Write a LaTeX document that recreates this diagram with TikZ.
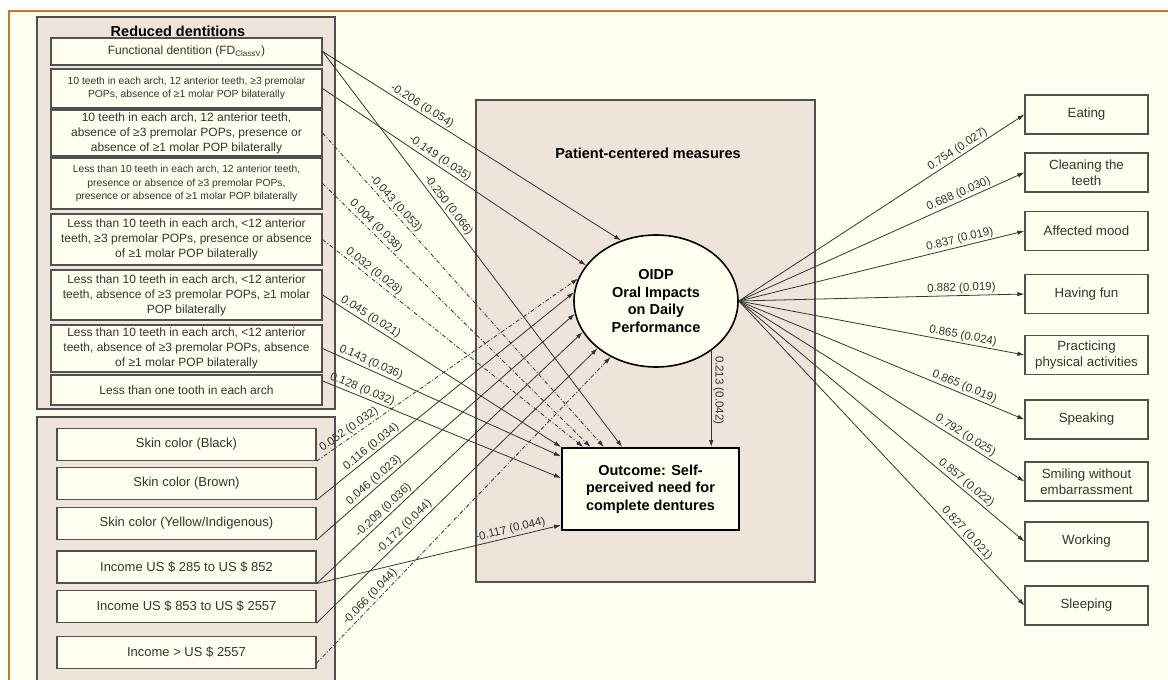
\documentclass[tikz,border=0pt]{standalone}
\usepackage{fontspec}
\setmainfont{Liberation Sans}
\usepackage{xcolor}
\usepackage{tikz}
\usetikzlibrary{shapes.geometric, arrows.meta}
\definecolor{cream}{HTML}{FFFFF0}
\definecolor{panel}{HTML}{EFE4DA}
\definecolor{framecol}{HTML}{C8781E}
\definecolor{boxline}{HTML}{505050}
\definecolor{lineclr}{HTML}{333333}

\begin{document}
\begin{tikzpicture}[x=1pt, y=-1pt, >={Latex[length=7pt,width=4.5pt]},
    rbox/.style={draw=boxline, line width=1.2pt, fill=cream, text=lineclr, align=center,
        inner sep=1pt, minimum width=271pt, font=\fontsize{12}{15}\selectfont},
    sbox/.style={rbox, minimum width=259pt, minimum height=32pt, font=\fontsize{13}{15}\selectfont},
    obox/.style={rbox, minimum width=123pt, minimum height=39pt, font=\fontsize{13.3}{16}\selectfont},
    conn/.style={->, draw=lineclr, line width=0.8pt},
    dd/.style={conn, dash pattern=on 4pt off 2pt on 1pt off 2pt},
    lbl/.style={sloped, above, inner sep=1.5pt, text=lineclr, font=\fontsize{11.5}{13}\selectfont}]
    % 1. Nền và khung
    \useasboundingbox (0,0) rectangle (1168,680);
    \fill[white] (0,0) rectangle (1168,680);
    \fill[cream] (9,11) rectangle (1168,680);
    \draw[framecol, line width=2pt] (9,685) -- (9,11) -- (1175,11);
    \draw[boxline, fill=panel, line width=1.2pt] (37,17) rectangle (335,409);
    \draw[boxline, fill=panel, line width=1.2pt] (37,417) rectangle (335,690);
    \draw[boxline, fill=panel, line width=1.2pt] (476,100) rectangle (815,582);
    \node[font=\bfseries\fontsize{14.5}{17}\selectfont] (rdt) at (178,31) {Reduced dentitions};
    \node[font=\bfseries\fontsize{14.5}{17}\selectfont] (pcm) at (648,153) {Patient-centered measures};

    % 2. Reduced dentitions
    \node[rbox, minimum height=27pt] (rd1) at (186.5,51.5) {Functional dentition (FD\textsubscript{ClassV})};
    \node[rbox, minimum height=39pt, font=\fontsize{10.3}{13.5}\selectfont] (rd2) at (186.5,88.5)
        {10 teeth in each arch, 12 anterior teeth, ≥3 premolar\\POPs, absence of ≥1 molar POP bilaterally};
    \node[rbox, minimum height=46pt] (rd3) at (186.5,133)
        {10 teeth in each arch, 12 anterior teeth,\\absence of ≥3 premolar POPs, presence or\\absence of ≥1 molar POP bilaterally};
    \node[rbox, minimum height=51pt, font=\fontsize{10.3}{13.3}\selectfont] (rd4) at (186.5,183.5)
        {Less than 10 teeth in each arch, 12 anterior teeth,\\presence or absence of ≥3 premolar POPs,\\presence or absence of ≥1 molar POP bilaterally};
    \node[rbox, minimum height=51pt] (rd5) at (186.5,239.5)
        {Less than 10 teeth in each arch, <12 anterior\\teeth, ≥3 premolar POPs, presence or absence\\of ≥1 molar POP bilaterally};
    \node[rbox, minimum height=50pt] (rd6) at (186.5,295)
        {Less than 10 teeth in each arch, <12 anterior\\teeth, absence of ≥3 premolar POPs, ≥1 molar\\POP bilaterally};
    \node[rbox, minimum height=47pt] (rd7) at (186.5,348.5)
        {Less than 10 teeth in each arch, <12 anterior\\teeth, absence of ≥3 premolar POPs, absence\\of ≥1 molar POP bilaterally};
    \node[rbox, minimum height=30pt] (rd8) at (186.5,390) {Less than one tooth in each arch};

    % 3. Skin color, income
    \node[sbox] (skin1) at (186.5,444.5) {Skin color (Black)};
    \node[sbox] (skin2) at (186.5,483.5) {Skin color (Brown)};
    \node[sbox] (skin3) at (186.5,523.5) {Skin color (Yellow/Indigenous)};
    \node[sbox] (inc1) at (186.5,567) {Income US \$ 285 to US \$ 852};
    \node[sbox] (inc2) at (186.5,606.5) {Income US \$ 853 to US \$ 2557};
    \node[sbox] (inc3) at (186.5,652.5) {Income > US \$ 2557};

    % 4. OIDP, outcome
    \node[ellipse, draw=black, line width=1.6pt, fill=cream, minimum width=164pt, minimum height=132pt,
        align=center, font=\bfseries\fontsize{14.5}{17.7}\selectfont] (oidp) at (656,301)
        {OIDP\\Oral Impacts\\on Daily\\Performance};
    \node[draw=black, line width=2pt, fill=cream, minimum width=177pt, minimum height=82pt,
        align=center, font=\bfseries\fontsize{14.5}{17.5}\selectfont] (outcome) at (650.5,489)
        {Outcome: Self-\\perceived need for\\complete dentures};

    % 5. OIDP domains
    \node[obox] (eat) at (1086.5,114.5) {Eating};
    \node[obox] (clean) at (1086.5,172.5) {Cleaning the\\teeth};
    \node[obox] (mood) at (1086.5,231) {Affected mood};
    \node[obox] (fun) at (1086.5,294) {Having fun};
    \node[obox] (phys) at (1086.5,355) {Practicing\\physical activities};
    \node[obox] (speak) at (1086.5,419.5) {Speaking};
    \node[obox] (smile) at (1086.5,481.5) {Smiling without\\embarrassment};
    \node[obox] (work) at (1086.5,541.5) {Working};
    \node[obox] (sleep) at (1086.5,605.5) {Sleeping};

    % 6. Paths from reduced dentitions
    \draw[conn] (rd1.east) -- node[lbl, pos=0.32] {-0.206 (0.054)} (oidp.120);
    \draw[conn] (rd1.east) -- node[lbl, pos=0.40] {-0.250 (0.066)} (outcome.124.8);
    \draw[conn] (rd2.east) -- node[lbl, pos=0.43] {-0.149 (0.035)} (oidp.153);
    \draw[dd] (rd3.east) -- node[lbl, pos=0.24] {-0.043 (0.053)} (outcome.138);
    \draw[dd] (rd4.east) -- node[lbl, pos=0.18] {0.004 (0.038)} (outcome.145);
    \draw[dd] (rd5.east) -- node[lbl, pos=0.18] {0.032 (0.028)} (outcome.148);
    \draw[conn] (rd6.east) -- node[lbl, pos=0.185] {0.045 (0.021)} (outcome.north west);
    \draw[conn] (rd7.east) -- node[lbl, pos=0.19] {0.143 (0.036)} (outcome.160);
    \draw[conn] ([yshift=9pt]rd8.east) -- node[lbl, pos=0.155] {0.128 (0.032)} (outcome.173);

    % 7. Paths from skin color, income
    \draw[dd] (skin1.south east) -- node[lbl, pos=0.14] {0.052 (0.032)} (oidp.164);
    \draw[conn] (skin2.south east) -- node[lbl, pos=0.23] {0.116 (0.034)} (oidp.174);
    \draw[conn] (skin3.south east) -- node[lbl, pos=0.24] {0.046 (0.023)} (oidp.189.5);
    \draw[conn] (inc1.south east) -- node[lbl, pos=0.27] {-0.209 (0.036)} (oidp.203);
    \draw[conn] (inc1.south east) -- node[lbl, pos=0.80] {-0.117 (0.044)} (outcome.202);
    \draw[conn] (inc2.south east) -- node[lbl, pos=0.33] {-0.172 (0.044)} (oidp.219);
    \draw[dd] ([yshift=6pt]inc3.south east) -- node[lbl, pos=0.20] {-0.066 (0.044)} (oidp.231);

    % 8. OIDP -> outcome, OIDP -> domains
    \draw[conn] (oidp.318) -- node[lbl, pos=0.41] {0.213 (0.042)} (oidp.318 |- outcome.north);
    \draw[conn] (oidp.east) -- node[lbl, pos=0.78] {0.754 (0.027)} (eat.west);
    \draw[conn] (oidp.east) -- node[lbl, pos=0.78] {0.688 (0.030)} (clean.west);
    \draw[conn] (oidp.east) -- node[lbl, pos=0.78] {0.837 (0.019)} (mood.west);
    \draw[conn] (oidp.east) -- node[lbl, pos=0.78] {0.882 (0.019)} (fun.west);
    \draw[conn] (oidp.east) -- node[lbl, pos=0.78] {0.865 (0.024)} (phys.west);
    \draw[conn] (oidp.east) -- node[lbl, pos=0.78] {0.865 (0.019)} (speak.west);
    \draw[conn] (oidp.east) -- node[lbl, pos=0.78] {0.792 (0.025)} (smile.west);
    \draw[conn] (oidp.east) -- node[lbl, pos=0.78] {0.857 (0.022)} (work.west);
    \draw[conn] (oidp.east) -- node[lbl, pos=0.78] {0.827 (0.021)} (sleep.west);
\end{tikzpicture}
\end{document}
